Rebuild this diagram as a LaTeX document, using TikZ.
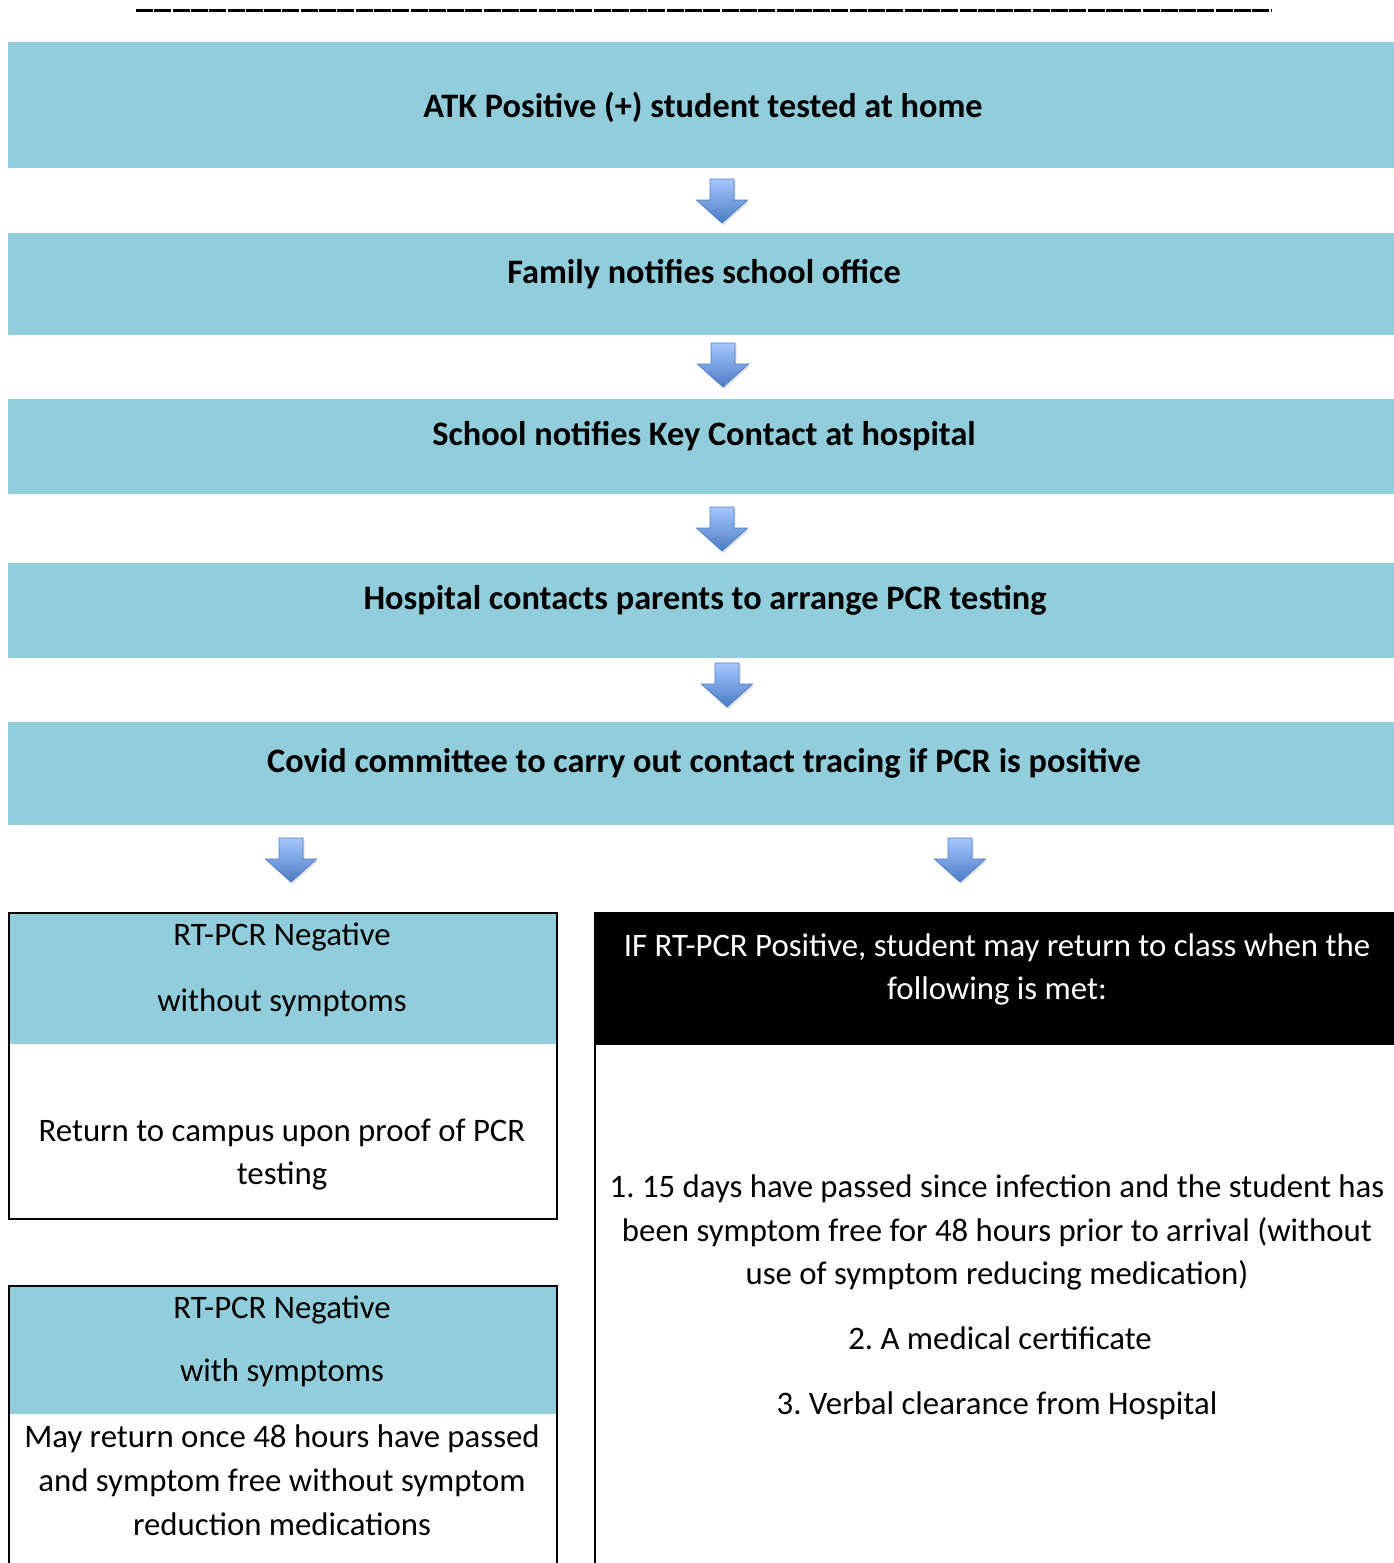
\documentclass[tikz,border=0pt]{standalone}
\usepackage{fontspec}
\setmainfont{Carlito}
\usetikzlibrary{shadows}
\frenchspacing
\definecolor{boxblue}{HTML}{92CDDC}
\definecolor{arrlight}{HTML}{A6C8FF}
\definecolor{arrdark}{HTML}{4A7BC4}
\definecolor{arredge}{HTML}{4F7FC0}
\tikzset{
  hdrbox/.style={fill=boxblue, draw=none, inner sep=0pt, anchor=north west},
  hdrtext/.style={font=\fontsize{34.3}{40}\selectfont\bfseries, anchor=base, inner sep=0pt},
  bodytext/.style={font=\fontsize{32.8}{43.5}\selectfont\frenchspacing, anchor=base, inner sep=0pt, align=center},
  outline/.style={draw=black, line width=2pt, fill=none},
  blockarr/.style={top color=arrlight, bottom color=arrdark, draw=arredge, line width=0.8pt,
     drop shadow={shadow xshift=1.5pt, shadow yshift=-2pt, opacity=0.25}},
}
\newcommand\myblockarrow[3]{%
  \path[blockarr] (#1-12,#2) -- (#1+12,#2) -- (#1+12,#2+21) -- (#1+25.5,#2+21)
    -- (#1,#2+44) -- (#1-25.5,#2+21) -- (#1-12,#2+21) -- cycle;
  \coordinate (#3) at (#1,#2+22);}
\begin{document}
\begin{tikzpicture}[x=1pt,y=-1pt]
\useasboundingbox (0,0) rectangle (1394,1563);
\clip (0,0) rectangle (1394,1563);
\fill[white] (0,0) rectangle (1394,1563);

% top rule of underscores
\coordinate (rl) at (136,10.5);
\coordinate (rr) at (1272,10.5);
\draw[line width=3pt, dash pattern=on 17pt off 1.3pt] (rl) -- (rr);

% header boxes
\node[hdrbox, minimum width=1386pt, minimum height=126pt] (b1) at (8,42) {};
\node[hdrtext] (t1) at (703,117) {ATK Positive (+) student tested at home};
\myblockarrow{722}{179}{a1}
\node[hdrbox, minimum width=1386pt, minimum height=102pt] (b2) at (8,233) {};
\node[hdrtext] (t2) at (704,283) {Family notifies school office};
\myblockarrow{723}{343}{a2}
\node[hdrbox, minimum width=1386pt, minimum height=95pt] (b3) at (8,399) {};
\node[hdrtext] (t3) at (704,445) {School notifies Key Contact at hospital};
\myblockarrow{722}{507}{a3}
\node[hdrbox, minimum width=1386pt, minimum height=95pt] (b4) at (8,563) {};
\node[hdrtext] (t4) at (705,609) {Hospital contacts parents to arrange PCR testing};
\myblockarrow{727}{663}{a4}
\node[hdrbox, minimum width=1386pt, minimum height=103pt] (b5) at (8,722) {};
\node[hdrtext] (t5) at (704,772) {Covid committee to carry out contact tracing if PCR is positive};
\myblockarrow{291}{838}{a5}
\myblockarrow{960}{838}{a6}

% left box A
\node[hdrbox, minimum width=548pt, minimum height=132pt] (la) at (8,912) {};
\node[outline, inner sep=0pt, minimum width=548pt, minimum height=306pt, anchor=north west] (lab) at (8,912) {};
\node[bodytext] (la1) at (282,945) {RT-PCR Negative};
\node[bodytext] (la2) at (282,1011) {without symptoms};
\node[bodytext] (la3) at (282,1141) {Return to campus upon proof of PCR};
\node[bodytext] (la4) at (282,1184) {testing};

% left box B
\node[hdrbox, minimum width=548pt, minimum height=129pt] (lb) at (8,1285) {};
\node[outline, inner sep=0pt, minimum width=548pt, minimum height=340pt, anchor=north west] (lbb) at (8,1285) {};
\node[bodytext] (lb1) at (282,1318) {RT-PCR Negative};
\node[bodytext] (lb2) at (282,1381) {with symptoms};
\node[bodytext] (lb3) at (282,1447) {May return once 48 hours have passed};
\node[bodytext] (lb4) at (282,1491) {and symptom free without symptom};
\node[bodytext] (lb5) at (282,1535) {reduction medications};

% right box
\node[fill=black, inner sep=0pt, minimum width=820pt, minimum height=133pt, anchor=north west] (rb) at (594,912) {};
\node[outline, inner sep=0pt, minimum width=820pt, minimum height=700pt, anchor=north west] (rbb) at (594,912) {};
\node[bodytext, text=white] (r1) at (997,956) {IF RT-PCR Positive, student may return to class when the};
\node[bodytext, text=white] (r2) at (997,999) {following is met:};
\node[bodytext] (r3) at (997,1197) {1. 15 days have passed since infection and the student has};
\node[bodytext] (r4) at (997,1241) {been symptom free for 48 hours prior to arrival (without};
\node[bodytext] (r5) at (997,1284) {use of symptom reducing medication)};
\node[bodytext] (r6) at (1000,1349) {2. A medical certificate};
\node[bodytext] (r7) at (997,1414) {3. Verbal clearance from Hospital};
\end{tikzpicture}
\end{document}
